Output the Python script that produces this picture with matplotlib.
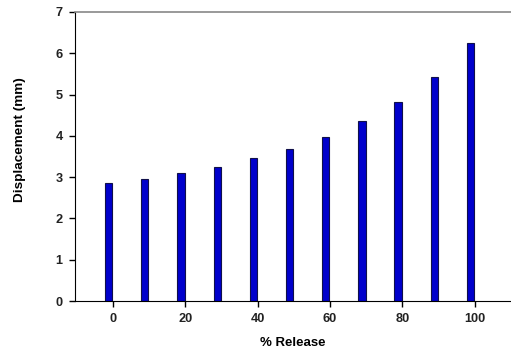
import matplotlib
matplotlib.use("Agg")
import matplotlib.pyplot as plt

plt.rcParams['font.family'] = ['Liberation Sans', 'DejaVu Sans']

release = [0, 10, 20, 30, 40, 50, 60, 70, 80, 90, 100]
displacement = [2.85, 2.95, 3.09, 3.25, 3.46, 3.69, 3.98, 4.35, 4.83, 5.42, 6.25]
xticks = [0, 20, 40, 60, 80, 100]
yticks = [0, 1, 2, 3, 4, 5, 6, 7]

bar_offset = -1.2
bar_width = 2.0

fig = plt.figure(figsize=(5.11, 3.52), dpi=100)
ax = fig.add_axes([75 / 511, 51 / 352, 1 - 75 / 511, (301 - 12) / 352])

ax.bar([r + bar_offset for r in release], displacement, width=bar_width,
       color='#0000cc', edgecolor='#10104a', linewidth=0.8)

ax.set_xlim(-10.5, 110)
ax.set_ylim(0, 7)
ax.set_xticks(xticks)
ax.set_yticks(yticks)
ax.tick_params(axis='both', direction='out', length=4, width=1, labelsize=9.2,
               pad=5)
for lab in ax.get_xticklabels() + ax.get_yticklabels():
    lab.set_fontweight('bold')
    lab.set_color('#222222')

ax.spines['right'].set_visible(False)
ax.spines['top'].set_color('#888888')
ax.spines['top'].set_linewidth(1.2)
ax.spines['left'].set_color('black')
ax.spines['bottom'].set_color('black')

ax.set_xlabel('% Release', fontsize=9.5, fontweight='bold', labelpad=8)
ax.set_ylabel('Displacement (mm)', fontsize=9.7, fontweight='bold',
              va='center')
ax.yaxis.set_label_coords((20 - 75) / 436, (301 - 140) / 289)

fig.savefig('out.png', dpi=100)
